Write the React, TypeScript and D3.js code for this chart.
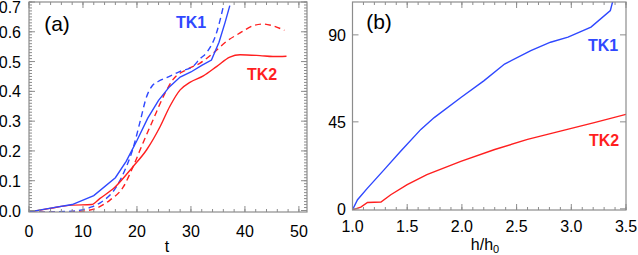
import React from "react";
import * as d3 from "d3";

// panel (a): growth vs t
const tk1SolidA: [number, number][] = [
  [0, -0.005], [4, 0.008], [8, 0.02], [12, 0.05], [16, 0.11], [18, 0.165],
  [20, 0.235], [22, 0.31], [24, 0.37], [26, 0.415], [28, 0.448], [30, 0.465],
  [32, 0.487], [33.8, 0.505], [35.2, 0.565], [36.3, 0.63], [37.2, 0.688],
];
const tk1DashA: [number, number][] = [
  [0, -0.006], [4, -0.005], [8, -0.002], [11.6, 0.012], [13.1, 0.025], [16.2, 0.08],
  [18.1, 0.15], [19.3, 0.21], [20.6, 0.3], [21.8, 0.383], [22.8, 0.418], [24, 0.434],
  [25.5, 0.446], [28, 0.467], [30.4, 0.484], [31.7, 0.51], [32.9, 0.53], [34.8, 0.6], [36, 0.685],
];
const tk2SolidA: [number, number][] = [
  [0, -0.005], [3.9, 0.007], [7.9, 0.018], [11.6, 0.02], [13.1, 0.04], [15.9, 0.078],
  [19.3, 0.148], [21.8, 0.204], [24.3, 0.282], [26.1, 0.35], [28, 0.405],
  [29.8, 0.43], [32.3, 0.452], [34.8, 0.484], [37.2, 0.515], [39.1, 0.523],
  [42.8, 0.52], [45.2, 0.517], [47.7, 0.518],
];
const tk2DashA: [number, number][] = [
  [0, -0.006], [5, -0.005], [9.8, -0.002], [12.5, 0.008], [15, 0.035], [17.5, 0.08],
  [19.3, 0.148], [21.1, 0.226], [23, 0.305], [24.9, 0.383], [26.7, 0.44],
  [29.2, 0.473], [31.7, 0.495], [34.1, 0.528], [36.6, 0.568], [39.1, 0.596],
  [41.5, 0.62], [43.4, 0.626], [45.2, 0.62], [47.3, 0.605],
];

// panel (b): vs h/h0
const tk1B: [number, number][] = [
  [1.0, -0.5], [1.046, 4.7], [1.137, 10.7], [1.29, 20.3], [1.44, 29.8], [1.625, 41.1],
  [1.747, 47.2], [1.991, 57.6], [2.2, 66.2], [2.39, 74.9], [2.63, 81.8],
  [2.81, 86.2], [2.97, 88.8], [3.18, 94], [3.357, 102.6], [3.4, 112],
];
const tk2B: [number, number][] = [
  [1.0, -0.5], [1.076, 0.9], [1.137, 3.3], [1.26, 3.5], [1.35, 7.3], [1.5, 12.5],
  [1.68, 17.7], [1.99, 24.6], [2.3, 30.7], [2.6, 35.9], [2.9, 40.2], [3.21, 44.6],
  [3.5, 48.9],
];

const ticksAX = [0, 10, 20, 30, 40, 50];
const ticksAY = [0, 0.1, 0.2, 0.3, 0.4, 0.5, 0.6, 0.7];
const ticksBX = [1.0, 1.5, 2.0, 2.5, 3.0, 3.5];
const ticksBY = [0, 45, 90];

const BLUE = "#2f48ff";
const RED = "#ff1f1f";
const FRAME = "#8c8c8c";
const FONT = "'Liberation Sans', Arial, sans-serif";

const aX = d3.scaleLinear().domain([0, 51.5]).range([29, 307]);
const aY = d3.scaleLinear().domain([-0.005, 0.7]).range([212, 2]);
const bX = d3.scaleLinear().domain([1, 3.5]).range([352.5, 626]);
const bY = d3.scaleLinear().domain([-0.6, 107]).range([210, 2]);

type Sc = d3.ScaleLinear<number, number>;

function Frame({ x, y, minorX, minorY, majorX, majorY }: {
  x: Sc; y: Sc; minorX: number[]; minorY: number[]; majorX: number[]; majorY: number[];
}) {
  const [x0, x1] = x.range();
  const [y0, y1] = y.range();
  const segs: string[] = [];
  const addX = (v: number, len: number) => {
    const px = x(v);
    segs.push(`M${px},${y0}V${y0 - len}M${px},${y1}V${y1 + len}`);
  };
  const addY = (v: number, len: number) => {
    const py = y(v);
    segs.push(`M${x0},${py}H${x0 + len}M${x1},${py}H${x1 - len}`);
  };
  minorX.forEach((v) => addX(v, 3));
  majorX.forEach((v) => addX(v, 6));
  minorY.forEach((v) => addY(v, 3));
  majorY.forEach((v) => addY(v, 6));
  return (
    <g>
      <path d={segs.join("")} stroke={FRAME} strokeWidth={1} fill="none" />
      <rect x={x0} y={y1} width={x1 - x0} height={y0 - y1} fill="none" stroke={FRAME} strokeWidth={1.2} />
    </g>
  );
}

export default function App() {
  const lineA = d3.line<[number, number]>().x((d) => aX(d[0])).y((d) => aY(d[1])).curve(d3.curveMonotoneX);
  const lineAlin = d3.line<[number, number]>().x((d) => aX(d[0])).y((d) => aY(d[1]));
  const lineB = d3.line<[number, number]>().x((d) => bX(d[0])).y((d) => bY(d[1]));

  const minorAX = d3.range(0, 51.5, 2);
  const minorAY = d3.range(0, 0.7001, 0.01);
  const minorBX = d3.range(1, 3.5001, 0.1);

  return (
    <svg width={638} height={255} style={{ position: "absolute", left: 0, top: 0, background: "#fff" }}
      fontFamily={FONT}>
      <defs>
        <clipPath id="clipA"><rect x={29} y={2} width={278} height={210} /></clipPath>
        <clipPath id="clipB"><rect x={352.5} y={2} width={273.5} height={208} /></clipPath>
      </defs>

      {/* panel (a) */}
      <g clipPath="url(#clipA)" fill="none" strokeWidth={1.4}>
        <path d={lineA(tk2DashA) ?? ""} stroke={RED} strokeDasharray="6,4" />
        <path d={lineA(tk1DashA) ?? ""} stroke={BLUE} strokeDasharray="6,4" />
        <path d={lineA(tk2SolidA) ?? ""} stroke={RED} />
        <path d={lineAlin(tk1SolidA) ?? ""} stroke={BLUE} />
      </g>
      <Frame x={aX} y={aY} minorX={minorAX} minorY={minorAY} majorX={ticksAX} majorY={ticksAY} />
      {ticksAX.map((t) => (
        <text key={t} x={aX(t)} y={237} textAnchor="middle" fontSize={16}>{t}</text>
      ))}
      {ticksAY.map((t) => (
        <text key={t} x={21} y={Math.max(aY(t) + 6, 13)} textAnchor="end" fontSize={16}>{t.toFixed(1)}</text>
      ))}
      <text x={167} y={252} textAnchor="middle" fontSize={16}>t</text>
      <text x={57} y={31} textAnchor="middle" fontSize={21}>(a)</text>
      <text x={191} y={28} textAnchor="middle" fontSize={16} fontWeight="bold" fill={BLUE}>TK1</text>
      <text x={262} y={80} textAnchor="middle" fontSize={16} fontWeight="bold" fill={RED}>TK2</text>

      {/* panel (b) */}
      <g clipPath="url(#clipB)" fill="none" strokeWidth={1.4}>
        <path d={lineB(tk2B) ?? ""} stroke={RED} />
        <path d={lineB(tk1B) ?? ""} stroke={BLUE} />
      </g>
      <Frame x={bX} y={bY} minorX={minorBX} minorY={[]} majorX={ticksBX} majorY={ticksBY} />
      {ticksBX.map((t) => (
        <text key={t} x={bX(t)} y={232} textAnchor="middle" fontSize={16}>{t.toFixed(1)}</text>
      ))}
      {ticksBY.map((t) => (
        <text key={t} x={346} y={bY(t) + 6} textAnchor="end" fontSize={16}>{t}</text>
      ))}
      <text x={485} y={250} textAnchor="middle" fontSize={16}>
        h/h<tspan fontSize={11} dy={3}>0</tspan>
      </text>
      <text x={379} y={29} textAnchor="middle" fontSize={21}>(b)</text>
      <text x={603} y={51} textAnchor="middle" fontSize={16} fontWeight="bold" fill={BLUE}>TK1</text>
      <text x={604} y={146} textAnchor="middle" fontSize={16} fontWeight="bold" fill={RED}>TK2</text>
    </svg>
  );
}
